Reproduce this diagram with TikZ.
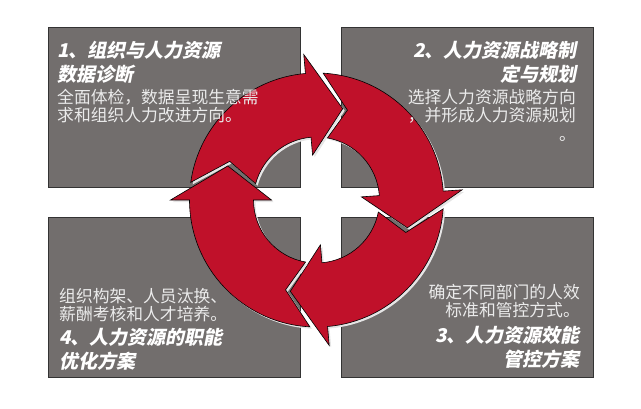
\documentclass[tikz,border=0pt]{standalone}
\usepackage{fontspec}
\newfontfamily\cjk{Noto Sans CJK SC}
\newfontfamily\cjkit{Noto Sans CJK SC}[FakeSlant=0.2]
\definecolor{panelgray}{RGB}{114,110,109}
\definecolor{cyclered}{RGB}{192,17,42}
\begin{document}
\begin{tikzpicture}[x=1pt,y=1pt,
    panel/.style={draw=black!80,line width=0.8pt,fill=panelgray,minimum width=252pt,minimum height=160pt,inner sep=0pt},
    headtext/.style={text=white,inner sep=0pt,font=\cjkit\bfseries\fontsize{19}{24}\selectfont},
    bodytext/.style={text=white!92!black,inner sep=0pt,font=\cjk\fontsize{16.8}{18.5}\selectfont},
    cyc/.style={fill=cyclered,draw=black,line width=0.6pt,
      preaction={fill=black!10,transform canvas={shift={(2pt,-2pt)}}}}]
    \useasboundingbox (0,0) rectangle (641,408);

    \node[panel] (p1) at (174,301) {};
    \node[panel] (p2) at (467,301) {};
    \node[panel] (p3) at (467,110.5) {};
    \node[panel] (p4) at (174,110.5) {};

    \coordinate (hub) at (316.5,208);
    \begin{scope}[shift={(hub)}]
        % top arrow
        \path[cyc] (172:127) arc[start angle=172,end angle=95,radius=127] -- (95:146) -- (74:95) -- (95:45) -- (95:63)
            arc[start angle=95,end angle=165,radius=63] -- (156:95) -- cycle;
        % right arrow
        \path[cyc] (87:127) arc[start angle=87,end angle=4,radius=127] -- (4:146) -- (-17:95) -- (4:45) -- (4:63)
            arc[start angle=4,end angle=80,radius=63] -- (71:95) -- cycle;
        % bottom arrow
        \path[cyc] (-4:127) arc[start angle=-4,end angle=-85,radius=127] -- (-85:146) -- (-106:95) -- (-85:45) -- (-85:63)
            arc[start angle=-85,end angle=-11,radius=63] -- (-20:95) -- cycle;
        % left arrow
        \path[cyc] (267:127) arc[start angle=267,end angle=180,radius=127] -- (180:146) -- (159:95) -- (180:45) -- (180:63)
            arc[start angle=180,end angle=260,radius=63] -- (251:95) -- cycle;
    \end{scope}

    \node[headtext,anchor=north west,align=left] (t1) at (57,367) {1、组织与人力资源\\数据诊断};
    \node[bodytext,anchor=north west,align=left] (b1) at (57,319) {全面体检，数据呈现生意需\\求和组织人力改进方向。};
    \node[headtext,anchor=north east,align=right] (t2) at (577,367) {2、人力资源战略制\\定与规划};
    \node[bodytext,anchor=north east,align=right] (b2) at (576,319) {选择人力资源战略方向\\，并形成人力资源规划\\。};
    \node[bodytext,anchor=north east,align=right] (b3) at (580,124) {确定不同部门的人效\\标准和管控方式。};
    \node[headtext,anchor=north east,align=right] (t3) at (580,82) {3、人力资源效能\\管控方案};
    \node[bodytext,anchor=north west,align=left] (b4) at (59,120) {组织构架、人员汰换、\\薪酬考核和人才培养。};
    \node[headtext,anchor=north west,align=left] (t4) at (59,80) {4、人力资源的职能\\优化方案};
\end{tikzpicture}
\end{document}
